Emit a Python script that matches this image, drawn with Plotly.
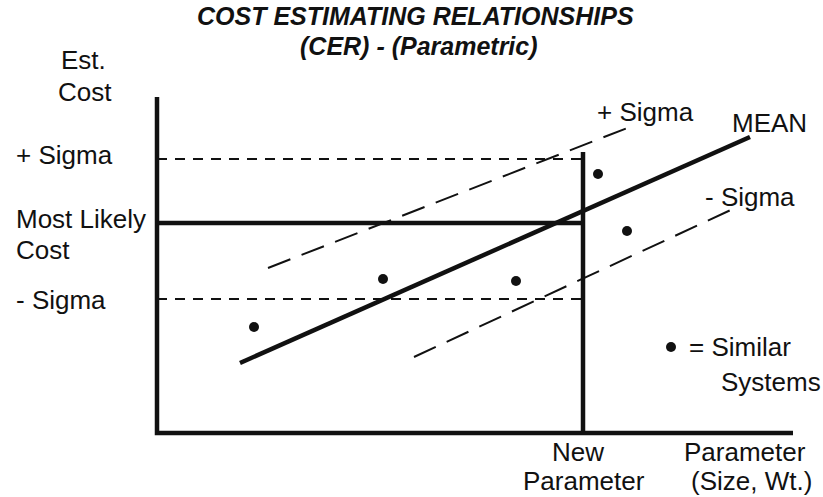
import plotly.graph_objects as go

# Data units: origin at the axis corner
axis_x = [0, 0, 636]
axis_y = [336, 0, 0]

new_param_x = [426, 426]
new_param_y = [0, 281]

plus_sigma_level_x = [0, 426]
plus_sigma_level_y = [274, 274]
minus_sigma_level_x = [0, 426]
minus_sigma_level_y = [134, 134]
most_likely_x = [0, 425]
most_likely_y = [210, 210]

mean_x = [83, 593]
mean_y = [70, 296]
plus_sigma_x = [111, 478]
plus_sigma_y = [165, 308]
minus_sigma_x = [257, 578]
minus_sigma_y = [76, 225]

systems_x = [97, 226, 359, 441, 470]
systems_y = [106, 154, 152, 259, 202]
legend_dot_x = [514]
legend_dot_y = [86]

FONT = "Liberation Sans, Arial, Helvetica, sans-serif"

fig = go.Figure()

def line(x, y, width, dash="solid"):
    fig.add_trace(go.Scatter(x=x, y=y, mode="lines",
                             line=dict(color="#111", width=width, dash=dash),
                             hoverinfo="skip", showlegend=False))

line(axis_x, axis_y, 4.5)
line(plus_sigma_level_x, plus_sigma_level_y, 2, "10px,8px")
line(minus_sigma_level_x, minus_sigma_level_y, 2, "10px,8px")
line(most_likely_x, most_likely_y, 4.5)
line(new_param_x, new_param_y, 4.5)
line(plus_sigma_x, plus_sigma_y, 2, "24px,12px")
line(minus_sigma_x, minus_sigma_y, 2, "24px,12px")
line(mean_x, mean_y, 4.5)

fig.add_trace(go.Scatter(x=systems_x + legend_dot_x, y=systems_y + legend_dot_y,
                         mode="markers", marker=dict(color="#111", size=10),
                         hoverinfo="skip", showlegend=False))

def text(x, y, s, size=26, xanchor="center"):
    fig.add_annotation(x=x, y=y, xref="x", yref="y", text=s, showarrow=False,
                       xanchor=xanchor, yanchor="middle", align="left",
                       font=dict(family=FONT, size=size, color="#111"))

# Title
text(258, 417, "<b><i>COST ESTIMATING RELATIONSHIPS</i></b>", size=25)
text(262, 387, "<b><i>(CER) - (Parametric)</i></b>", size=25)

# Y labels
text(-74, 373, "Est.")
text(-72, 341, "Cost")
text(-143, 278, "+ Sigma", xanchor="left")
text(-143, 214, "Most Likely", xanchor="left")
text(-143, 183, "Cost", xanchor="left")
text(-143, 133, "- Sigma", xanchor="left")

# Line labels
text(488, 321, "+ Sigma")
text(612, 310, "MEAN")
text(593, 236, "- Sigma")
text(530, 86, "= Similar", xanchor="left")
text(562, 51, "Systems", xanchor="left")

# X labels
text(421, -19, "New")
text(427, -48, "Parameter")
text(588, -19, "Parameter")
text(594, -48, "(Size, Wt.)")

fig.update_layout(
    width=823, height=497,
    margin=dict(l=0, r=0, t=0, b=0),
    paper_bgcolor="white", plot_bgcolor="white",
    xaxis=dict(range=[-157, 666], visible=False, fixedrange=True),
    yaxis=dict(range=[-64, 433], visible=False, fixedrange=True),
)

fig.write_html("out.html", post_script="document.body.style.margin='0';",
               config={"displayModeBar": False})
